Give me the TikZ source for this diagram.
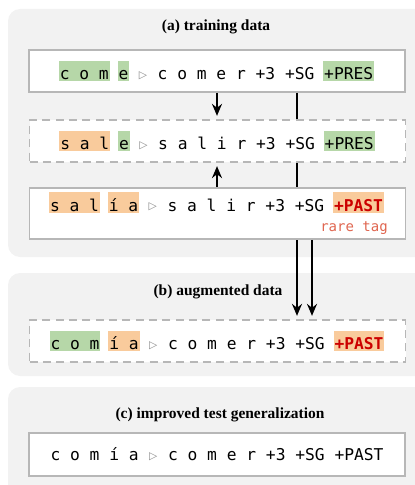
\documentclass[tikz,border=0pt]{standalone}
\usepackage{fontspec}
\setmainfont{Liberation Serif}
\setmonofont{DejaVu Sans Mono}
\newfontfamily\symfont{DejaVu Sans}
\usetikzlibrary{arrows.meta}

\definecolor{panelgray}{HTML}{F2F2F2}
\definecolor{boxgray}{HTML}{B7B7B7}
\definecolor{hlgreen}{HTML}{B6D7A8}
\definecolor{hlorange}{HTML}{F9CB9C}
\definecolor{pastred}{HTML}{CC0000}
\definecolor{rarered}{HTML}{E06650}
\definecolor{trigray}{HTML}{8A8A8A}

% highlighted characters
\newcommand{\hl}[2]{{\setlength{\fboxsep}{0.75pt}\hspace{-0.75pt}\colorbox{#1}{\rule[-0.5pt]{0pt}{14pt}#2}\hspace{-0.75pt}}}
% separator between word form and lemma
\newcommand{\tri}{\makebox[0.602em]{\raisebox{1.2pt}{\textcolor{trigray}{\symfont\fontsize{8}{9}\selectfont ▷}}}}
\newcommand{\past}{\hl{hlorange}{\textcolor{pastred}{\bfseries +PAST}}}

\tikzset{
  panel/.style={fill=panelgray, rounded corners=9pt},
  title/.style={font=\bfseries\fontsize{11.6}{13}\selectfont},
  word/.style={font=\ttfamily\fontsize{12.2}{14}\selectfont, inner sep=0pt},
  solidbox/.style={word, draw=boxgray, line width=1.2pt, fill=white,
    minimum width=282pt, minimum height=31.5pt},
  dashbox/.style={solidbox, dash pattern=on 6pt off 4pt},
  arr/.style={-{Stealth[length=9pt,width=7.5pt,inset=3pt]}, line width=1.5pt, shorten >=2.5pt},
}

\begin{document}
\begin{tikzpicture}[x=0.75pt,y=-0.75pt]
    \useasboundingbox (0,0) rectangle (414,485);

    % Panels
    \fill[panel] (8,9) rectangle (430,257);
    \fill[panel] (8,273) rectangle (430,376);
    \fill[panel] (8,387) rectangle (430,510);

    % Titles
    \node[title] (ta) at (216,27) {(a) training data};
    \node[title] (tb) at (218,292) {(b) augmented data};
    \node[title] (tc) at (220,415) {(c) improved test generalization};

    % Frequent verb, present
    \node[solidbox] (come) at (217,71)
      {\hl{hlgreen}{c o m} \hl{hlgreen}{e} \tri{} c o m e r +3 +SG \hl{hlgreen}{+PRES}};

    % Augmented form
    \node[dashbox] (comia) at (217.5,341)
      {\hl{hlgreen}{c o m} \hl{hlorange}{í a} \tri{} c o m e r +3 +SG \past};

    % Test form
    \node[solidbox, minimum height=32.25pt] (result) at (217,454.5)
      {c o m í a \tri{} c o m e r +3 +SG +PAST};

    % Right connectors (the long one runs behind the middle boxes)
    \coordinate (xl) at (297,0);
    \coordinate (xr) at (312,0);
    \draw[arr] (come.south -| xl) -- (comia.north -| xl);

    % Other verb, present
    \node[dashbox] (sale) at (217.5,141)
      {\hl{hlorange}{s a l} \hl{hlgreen}{e} \tri{} s a l i r +3 +SG \hl{hlgreen}{+PRES}};

    % Other verb, past
    \node[solidbox, minimum height=38.25pt] (salia) at (217.5,213.5) {};
    \node[word] (saliatext) at (217,202.7)
      {\hl{hlorange}{s a l} \hl{hlorange}{í a} \tri{} s a l i r +3 +SG \past};
    \node[word, font=\ttfamily\fontsize{10.5}{12}\selectfont, text=rarered, anchor=base east]
      (rare) at (388,231) {rare tag};

    \draw[arr] (salia.south -| xr) -- (comia.north -| xr);

    % Left connectors
    \draw[arr] (come.south) -- (come.south |- sale.north);
    \draw[arr] (salia.north -| come.south) -- (sale.south -| come.south);
\end{tikzpicture}
\end{document}
